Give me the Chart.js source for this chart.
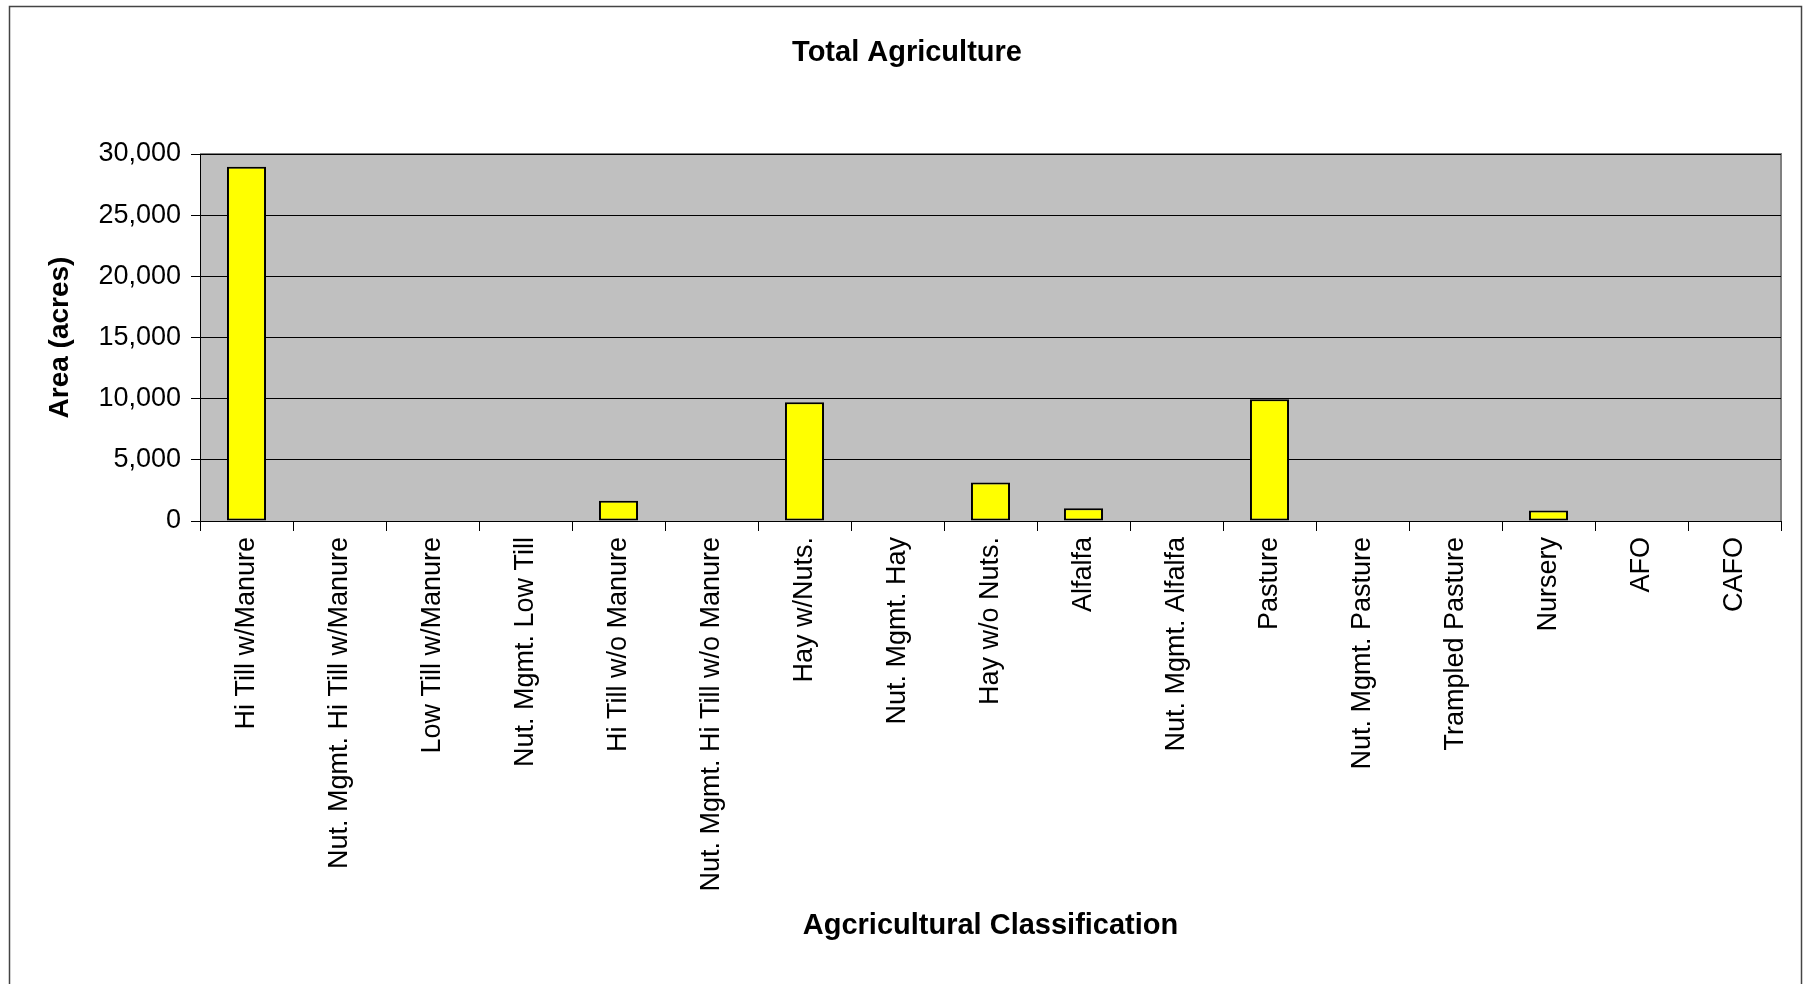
<!DOCTYPE html>
<html>
<head>
<meta charset="utf-8">
<title>Total Agriculture</title>
<script src="https://cdn.jsdelivr.net/npm/chart.js@4"></script>
<style>
  html, body { margin: 0; padding: 0; background: #fff; }
  #wrap { width: 1810px; height: 984px; }
</style>
</head>
<body>
<div id="wrap"><canvas id="myChart" width="1810" height="984"></canvas></div>
<script>
const categories = [
    'Hi Till w/Manure', 'Nut. Mgmt. Hi Till w/Manure', 'Low Till w/Manure', 'Nut. Mgmt. Low Till',
    'Hi Till w/o Manure', 'Nut. Mgmt. Hi Till w/o Manure', 'Hay w/Nuts.', 'Nut. Mgmt. Hay',
    'Hay w/o Nuts.', 'Alfalfa', 'Nut. Mgmt. Alfalfa', 'Pasture', 'Nut. Mgmt. Pasture',
    'Trampled Pasture', 'Nursery', 'AFO', 'CAFO'
];
const areaAcres = [28950, 0, 0, 0, 1650, 0, 9700, 0, 3150, 1050, 0, 9950, 0, 0, 850, 0, 0];
const yTicks = [0, 5000, 10000, 15000, 20000, 25000, 30000];

const FONT = '"Liberation Sans", Arial, sans-serif';

// grey plot background, grey top/right edge and the thin frame round the picture
const frame = {
    id: 'frame',
    beforeDraw(chart) {
        const c = chart.ctx;
        const a = chart.chartArea;
        c.save();
        c.fillStyle = '#fff';
        c.fillRect(0, 0, chart.width, chart.height);
        c.strokeStyle = '#444';
        c.lineWidth = 1.5;
        c.strokeRect(9.5, 6.5, 1792, 1000);
        c.fillStyle = '#c0c0c0';
        c.fillRect(a.left, a.top, a.right - a.left, a.bottom - a.top);
        c.strokeStyle = '#808080';
        c.lineWidth = 2;
        c.beginPath();
        c.moveTo(a.left, a.top);
        c.lineTo(a.right, a.top);
        c.lineTo(a.right, a.bottom);
        c.stroke();
        c.restore();
    }
};

const ctx = document.getElementById('myChart').getContext('2d');
const myChart = new Chart(ctx, {
    type: 'bar',
    data: {
        labels: categories,
        datasets: [{
            label: 'Area (acres)',
            data: areaAcres,
            backgroundColor: '#ffff00',
            borderColor: '#000',
            borderWidth: 2,
            borderSkipped: false,
            barPercentage: 0.42,
            categoryPercentage: 1
        }]
    },
    options: {
        responsive: false,
        animation: false,
        layout: { padding: { left: 33, right: 29, top: 0, bottom: 0 } },
        scales: {
            y: {
                min: 0,
                max: 30000,
                afterBuildTicks: function(scale) {
                    scale.ticks = yTicks.map(v => ({ value: v }));
                },
                afterFit: function(scale) { scale.width = 167; },
                grid: {
                    color: '#000',
                    lineWidth: 1,
                    tickLength: 9,
                    tickColor: '#000'
                },
                border: { display: true, color: '#000', width: 1 },
                ticks: {
                    color: '#000',
                    padding: 10,
                    font: { family: FONT, size: 27 },
                    callback: function(value) {
                        return value.toLocaleString('en-US');
                    }
                },
                title: {
                    display: true,
                    text: 'Area (acres)',
                    color: '#000',
                    font: { family: FONT, size: 28, weight: 'bold' },
                    padding: { top: 10, bottom: 0 }
                }
            },
            x: {
                afterFit: function(scale) { scale.height = 463; },
                grid: {
                    offset: true,
                    drawOnChartArea: false,
                    color: '#000',
                    tickLength: 10
                },
                border: { display: true, color: '#000', width: 1 },
                ticks: {
                    autoSkip: false,
                    maxRotation: 90,
                    minRotation: 90,
                    padding: 6,
                    color: '#000',
                    font: { family: FONT, size: 27 }
                },
                title: {
                    display: true,
                    text: 'Agcricultural Classification',
                    color: '#000',
                    font: { family: FONT, size: 29, weight: 'bold' },
                    padding: { top: 0, bottom: 40.6 }
                }
            }
        },
        plugins: {
            legend: { display: false },
            tooltip: { enabled: false },
            title: {
                display: true,
                text: 'Total Agriculture',
                color: '#000',
                font: { family: FONT, size: 29, weight: 'bold' },
                padding: { top: 36, bottom: 83.2 }
            }
        }
    },
    plugins: [frame]
});
</script>
</body>
</html>
